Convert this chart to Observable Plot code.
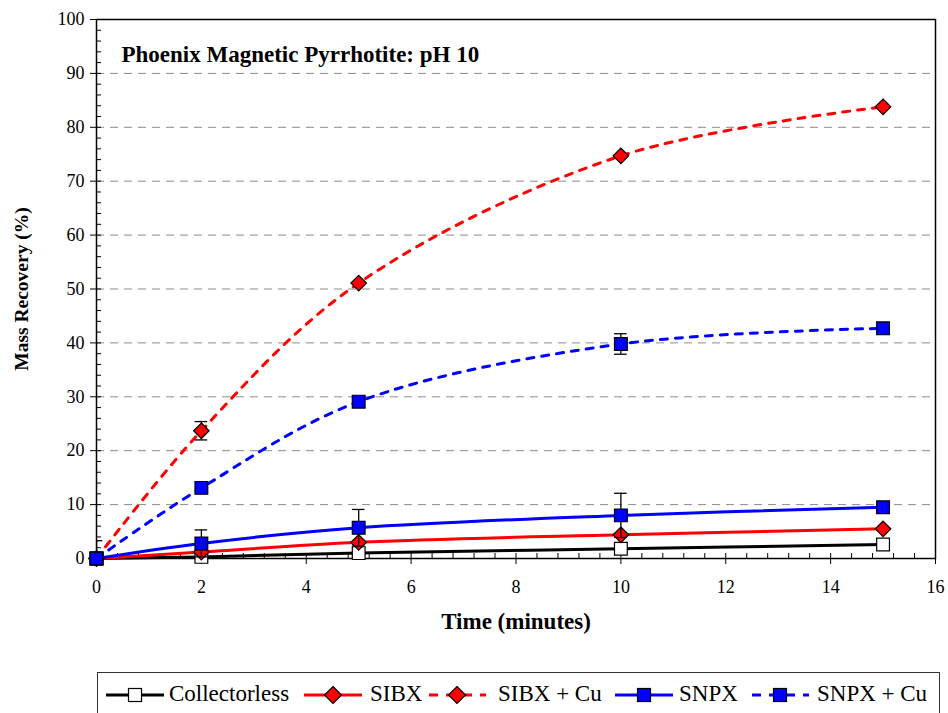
<!DOCTYPE html>
<html><head><meta charset="utf-8">
<script src="https://cdn.jsdelivr.net/npm/d3@7"></script>
<script src="https://cdn.jsdelivr.net/npm/@observablehq/plot@0.6"></script>
<style>
body{margin:0;background:#fff;font-family:"Liberation Serif","Times New Roman",serif;}
#chart{position:absolute;left:0;top:0;}
#chart svg, #chart svg text{font-family:"Liberation Serif","Times New Roman",serif !important;}
#chart [aria-label="y-axis label"] text{font-weight:bold;font-size:19.5px;}
#chart [aria-label="x-axis label"] text{font-weight:bold;font-size:23px;}
#chart [aria-label="y-axis tick label"] text,#chart [aria-label="x-axis tick label"] text{font-size:18px;}
#legend{position:absolute;left:97px;top:672px;width:843px;height:60px;border:1px solid #333;box-sizing:border-box;}
.sw{position:absolute;top:10px;}
.lab{position:absolute;top:8px;font-size:23px;line-height:26px;white-space:nowrap;}
</style></head><body>
<div id="chart"></div><div id="legend"></div>
<script>
// ---- data ----
const times = [0, 2, 5, 10, 15];
const seriesNames = ["Collectorless", "SIBX", "SIBX + Cu", "SNPX", "SNPX + Cu"];
const collectorless = [0, 0.3, 1.0, 1.8, 2.6];
const sibx = [0, 1.2, 3.0, 4.4, 5.5];
const sibxCu = [0, 23.7, 51.1, 74.7, 83.8];
const snpx = [0, 2.8, 5.7, 8.0, 9.5];
const snpxCu = [0, 13.1, 29.1, 39.8, 42.7];
const errCollectorless = [3.3, 0, 1.6, 0, 0];
const errSibx = [0, 0, 0, 0, 0];
const errSibxCu = [0, 1.7, 0, 0, 0];
const errSnpx = [0, 2.5, 3.4, 4.1, 0];
const errSnpxCu = [0, 0, 0, 1.9, 0];
const xTicks = [0, 2, 4, 6, 8, 10, 12, 14, 16];
const yTicks = [0, 10, 20, 30, 40, 50, 60, 70, 80, 90, 100];
const gridLines = [10, 20, 30, 40, 50, 60, 70, 80, 90];
const xMinor = [0,0.4,0.8,1.2,1.6,2,2.4,2.8,3.2,3.6,4,4.4,4.8,5.2,5.6,6,6.4,6.8,7.2,7.6,8,8.4,8.8,9.2,9.6,10,10.4,10.8,11.2,11.6,12,12.4,12.8,13.2,13.6,14,14.4,14.8,15.2,15.6];
const yMinor = [2,4,6,8,10,12,14,16,18,20,22,24,26,28,30,32,34,36,38,40,42,44,46,48,50,52,54,56,58,60,62,64,66,68,70,72,74,76,78,80,82,84,86,88,90,92,94,96,98];
const title = "Phoenix Magnetic Pyrrhotite: pH 10";

// ---- styles ----
const styles = [
  {color: "#000000", dash: null, symbol: "square", fill: "#ffffff"},
  {color: "#ff0000", dash: null, symbol: "diamond2", fill: "#ff0000"},
  {color: "#ff0000", dash: "7,8", symbol: "diamond2", fill: "#ff0000"},
  {color: "#0000ff", dash: null, symbol: "square", fill: "#0000ff"},
  {color: "#0000ff", dash: "7,8", symbol: "square", fill: "#0000ff"}
];
const values = [collectorless, sibx, sibxCu, snpx, snpxCu];
const errors = [errCollectorless, errSibx, errSibxCu, errSnpx, errSnpxCu];

const rows = [];
values.forEach((vals, s) => vals.forEach((v, i) => rows.push({s, name: seriesNames[s], x: times[i], y: v, err: errors[s][i]})));
const errRows = rows.filter(d => d.err > 0);

const W = 948, H = 660, mL = 96, mR = 13, mT = 19, mB = 102;
const pw = W - mL - mR, ph = H - mT - mB;

const marks = [
  Plot.ruleY(gridLines, {stroke: "#8c8c8c", strokeWidth: 1, strokeDasharray: "8,6"}),
  Plot.tickX(xMinor, {x: d => d, insetTop: ph - 5, stroke: "#000"}),
  Plot.tickY(yMinor, {y: d => d, insetRight: pw - 5, stroke: "#000"}),
  Plot.frame({stroke: "#000", strokeWidth: 1.5}),
  Plot.axisX(xTicks, {tickSize: 6, tickPadding: 16, label: "Time (minutes)", labelAnchor: "center", labelOffset: 70, labelArrow: "none", fontSize: 18}),
  Plot.axisY(yTicks, {tickSize: 6, tickPadding: 6, label: "Mass Recovery (%)", labelAnchor: "center", labelOffset: 82, labelArrow: "none", fontSize: 18}),
  Plot.text([title], {frameAnchor: "top-left", dx: 25, dy: 35, textAnchor: "start", lineAnchor: "middle", fontWeight: "bold", fontSize: 23})
];
styles.forEach((st, s) => {
  marks.push(Plot.line(rows.filter(d => d.s === s), {x: "x", y: "y", stroke: st.color, strokeWidth: 3, strokeDasharray: st.dash, curve: "catmull-rom"}));
});
styles.forEach((st, s) => {
  const er = errRows.filter(d => d.s === s);
  marks.push(Plot.ruleX(er, {x: "x", y1: d => d.y - d.err, y2: d => d.y + d.err, stroke: "#000", strokeWidth: 1.3, clip: true}));
  marks.push(Plot.ruleY(er, {x1: d => d.x - 0.12, x2: d => d.x + 0.12, y: d => d.y + d.err, stroke: "#000", strokeWidth: 1.3, clip: true}));
  marks.push(Plot.ruleY(er, {x1: d => d.x - 0.12, x2: d => d.x + 0.12, y: d => d.y - d.err, stroke: "#000", strokeWidth: 1.3, clip: true}));
  marks.push(Plot.dot(rows.filter(d => d.s === s), {x: "x", y: "y", symbol: () => st.symbol, fill: st.fill, stroke: "#000", strokeWidth: 1.2, r: st.symbol === "square" ? 7.2 : 7}));
});

const chart = Plot.plot({
  width: W, height: H,
  marginLeft: mL, marginRight: mR, marginTop: mT, marginBottom: mB,
  style: {fontFamily: "'Liberation Serif','Times New Roman',serif", fontSize: "18px", color: "#000", background: "#fff"},
  x: {domain: [0, 16], axis: null},
  y: {domain: [0, 100], axis: null},
  symbol: {type: "identity"},
  marks
});
document.getElementById("chart").appendChild(chart);

// ---- legend ----
const legend = document.getElementById("legend");
const swLeft = [8, 206, 330, 517, 653];   // relative to legend box
const labLeft = [71, 272, 400, 581, 719];
seriesNames.forEach((name, s) => {
  const st = styles[s];
  const sw = 58;
  let svgStr = `<svg class="sw" style="left:${swLeft[s]}px" width="${sw}" height="24" viewBox="0 0 ${sw} 24"><line x1="0" y1="12" x2="${sw}" y2="12" stroke="${st.color}" stroke-width="3" ${st.dash ? `stroke-dasharray="9,8" stroke-dashoffset="-1"` : ""}/>`;
  if (st.symbol === "square") svgStr += `<rect x="${sw/2-6.5}" y="5.5" width="13" height="13" fill="${st.fill}" stroke="#000" stroke-width="1.2"/>`;
  else svgStr += `<path d="M${sw/2},3.5 L${sw/2+8.5},12 L${sw/2},20.5 L${sw/2-8.5},12Z" fill="${st.fill}" stroke="#000" stroke-width="1.2"/>`;
  svgStr += `</svg>`;
  legend.insertAdjacentHTML("beforeend", svgStr + `<span class="lab" style="left:${labLeft[s]}px">${name}</span>`);
});
</script>
</body></html>
